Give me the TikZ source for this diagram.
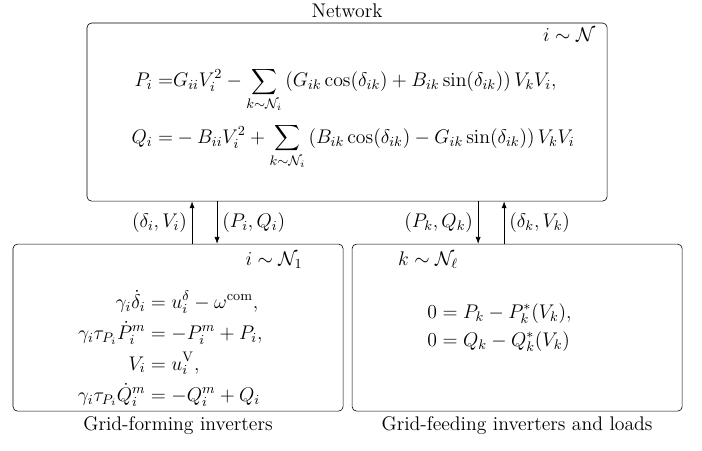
\RequirePackage{fix-cm}
\documentclass[tikz,border=0pt]{standalone}
\usepackage{amsmath}
\usepackage{tikz}
\usetikzlibrary{arrows.meta,positioning,calc}

\begin{document}
\begin{tikzpicture}[
  font=\fontsize{13.2}{15.8}\selectfont,
  box/.style={draw, rounded corners=3pt, minimum width=#1, inner sep=0pt},
  arr/.style={-{Latex[length=1.6mm,width=1.2mm]}},
  eqn/.style={inner sep=0pt}]
\useasboundingbox (0,0) rectangle (16.5,10.58);
\node[box=12.225cm, minimum height=4.185cm, label=above:Network] (net) at (8.158,7.946) {};
\node[box=7.758cm, minimum height=3.926cm, label=below:Grid-forming inverters] (gfm) at (4.185,2.880) {};
\node[box=7.758cm, minimum height=3.926cm, label=below:Grid-feeding inverters and loads] (gfl) at (12.155,2.880) {};
\node[eqn] (netidx) at (13.377,9.757) {$i\sim\mathcal{N}$};
\node[eqn] (gfmidx) at (6.442,4.467) {$i\sim\mathcal{N}_1$};
\node[eqn] (gflidx) at (10.062,4.467) {$k\sim\mathcal{N}_\ell$};
\node[eqn] (neteq) at (8.30,7.805) {$\begin{aligned}
  P_i =& G_{ii}V_i^2 - \sum_{k\sim\mathcal{N}_i}\left(G_{ik}\cos(\delta_{ik}) + B_{ik}\sin(\delta_{ik})\right)V_kV_i,\\[4pt]
  Q_i =& -B_{ii}V_i^2 + \sum_{k\sim\mathcal{N}_i}\left(B_{ik}\cos(\delta_{ik}) - G_{ik}\sin(\delta_{ik})\right)V_kV_i
\end{aligned}$};
\node[eqn] (gfmeq) at (4.0,2.375) {$\begin{aligned}
  \gamma_i\dot{\delta}_i &= u_i^{\delta} - \omega^{\mathrm{com}},\\
  \gamma_i\tau_{P_i}\dot{P}_i^m &= -P_i^m + P_i,\\
  V_i &= u_i^{\mathrm{V}},\\
  \gamma_i\tau_{P_i}\dot{Q}_i^m &= -Q_i^m + Q_i
\end{aligned}$};
\node[eqn] (gfleq) at (11.74,2.868) {$\begin{aligned}
  0 &= P_k - P_k^*(V_k),\\
  0 &= Q_k - Q_k^*(V_k)
\end{aligned}$};
\draw[arr] ([xshift=0.329cm]gfm.north) -- ([xshift=0.329cm]gfm.north |- net.south)
  node[midway, left] {$(\delta_i,V_i)$};
\draw[arr] ([xshift=0.917cm]gfm.north |- net.south) -- ([xshift=0.917cm]gfm.north)
  node[midway, right] {$(P_i,Q_i)$};
\draw[arr] ([xshift=-0.917cm]gfl.north |- net.south) -- ([xshift=-0.917cm]gfl.north)
  node[midway, left] {$(P_k,Q_k)$};
\draw[arr] ([xshift=-0.306cm]gfl.north) -- ([xshift=-0.306cm]gfl.north |- net.south)
  node[midway, right] {$(\delta_k,V_k)$};
\end{tikzpicture}
\end{document}
